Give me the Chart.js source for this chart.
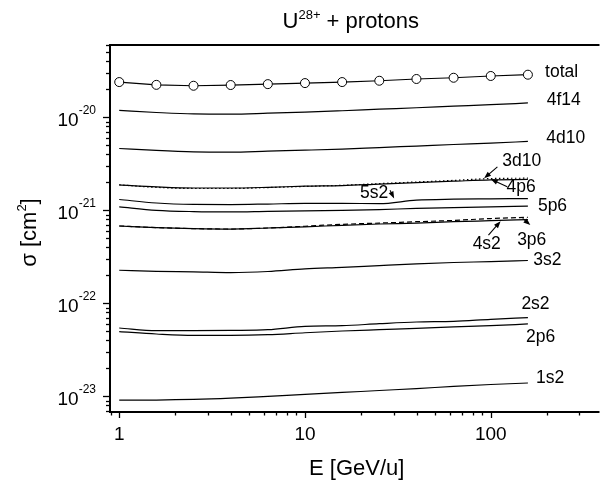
<!DOCTYPE html>
<html>
<head>
<meta charset="utf-8">
<script src="https://cdn.jsdelivr.net/npm/chart.js@4.4.1/dist/chart.umd.min.js"></script>
<style>
  html, body { margin: 0; padding: 0; background: #fff; }
  canvas { display: block; }
</style>
</head>
<body>
<canvas id="crossSections" width="605" height="480"></canvas>
<script>
const energy = [1, 1.585, 2.512, 3.981, 6.310, 10, 15.85, 25.12, 39.81, 63.10, 100, 158.5];

// Cross sections [cm^2] per subshell
const total   = [2.40e-20, 2.24e-20, 2.19e-20, 2.23e-20, 2.28e-20, 2.34e-20, 2.40e-20, 2.48e-20, 2.59e-20, 2.67e-20, 2.79e-20, 2.88e-20];
const sub4f14 = [1.19e-20, 1.13e-20, 1.09e-20, 1.085e-20, 1.11e-20, 1.14e-20, 1.18e-20, 1.225e-20, 1.27e-20, 1.32e-20, 1.37e-20, 1.43e-20];
const sub4d10 = [4.63e-21, 4.41e-21, 4.26e-21, 4.23e-21, 4.34e-21, 4.44e-21, 4.56e-21, 4.74e-21, 4.92e-21, 5.11e-21, 5.30e-21, 5.51e-21];
const sub3d10 = [1.88e-21, 1.77e-21, 1.72e-21, 1.72e-21, 1.76e-21, 1.81e-21, 1.86e-21, 1.94e-21, 2.02e-21, 2.10e-21, 2.20e-21, 2.22e-21];
const sub4p6  = [1.88e-21, 1.79e-21, 1.74e-21, 1.74e-21, 1.77e-21, 1.82e-21, 1.85e-21, 1.92e-21, 1.99e-21, 2.06e-21, 2.13e-21, 2.15e-21];
const sub5s2  = [1.31e-21, 1.20e-21, 1.16e-21, 1.155e-21, 1.17e-21, 1.19e-21, 1.19e-21, 1.18e-21, 1.29e-21, 1.32e-21, 1.33e-21, 1.34e-21];
const sub5p6  = [1.09e-21, 1.00e-21, 0.97e-21, 0.962e-21, 0.975e-21, 0.986e-21, 1.00e-21, 1.02e-21, 1.05e-21, 1.07e-21, 1.09e-21, 1.11e-21];
const sub4s2  = [6.79e-22, 6.53e-22, 6.37e-22, 6.30e-22, 6.46e-22, 6.65e-22, 6.91e-22, 7.14e-22, 7.30e-22, 7.55e-22, 7.75e-22, 7.96e-22];
const sub3p6  = [6.79e-22, 6.53e-22, 6.37e-22, 6.30e-22, 6.46e-22, 6.75e-22, 7.08e-22, 7.30e-22, 7.55e-22, 7.80e-22, 8.17e-22, 8.43e-22];
const sub3s2  = [2.27e-22, 2.21e-22, 2.18e-22, 2.14e-22, 2.20e-22, 2.35e-22, 2.44e-22, 2.55e-22, 2.66e-22, 2.75e-22, 2.81e-22, 2.89e-22];
const sub2s2  = [5.43e-23, 5.08e-23, 5.08e-23, 5.12e-23, 5.21e-23, 5.65e-23, 5.75e-23, 6.04e-23, 6.30e-23, 6.40e-23, 6.73e-23, 7.02e-23];
const sub2p6  = [4.96e-23, 4.68e-23, 4.52e-23, 4.52e-23, 4.60e-23, 4.83e-23, 5.04e-23, 5.21e-23, 5.38e-23, 5.57e-23, 5.75e-23, 6.00e-23];
const sub1s2  = [9.10e-24, 9.12e-24, 9.25e-24, 9.55e-24, 1.00e-23, 1.05e-23, 1.10e-23, 1.155e-23, 1.21e-23, 1.28e-23, 1.34e-23, 1.39e-23];

// Tick labels
const xTickValues = [1, 10, 100];
const xTickLabels = ['1', '10', '100'];
const yTickValues = [1e-23, 1e-22, 1e-21, 1e-20];
const yTickExponents = ['-23', '-22', '-21', '-20'];

// Curve labels, placed in data coordinates (energy, sigma)
const curveLabels = [
    { text: 'total', x: 196, y: 3.07e-20 },
    { text: '4f14', x: 200, y: 1.535e-20 },
    { text: '4d10', x: 199, y: 5.94e-21 },
    { text: '3d10', x: 115.4, y: 3.39e-21 },
    { text: '4p6', x: 121.7, y: 1.79e-21 },
    { text: '5s2', x: 19.8, y: 1.52e-21 },
    { text: '5p6', x: 179.4, y: 1.11e-21 },
    { text: '4s2', x: 79.9, y: 4.30e-22 },
    { text: '3p6', x: 138.7, y: 4.79e-22 },
    { text: '3s2', x: 169.4, y: 2.92e-22 },
    { text: '2s2', x: 146.2, y: 9.81e-23 },
    { text: '2p6', x: 154.9, y: 4.36e-23 },
    { text: '1s2', x: 175.1, y: 1.58e-23 }
];

// Pointer arrows, from label towards curve (data coordinates)
const arrows = [
    { from: [108.6, 2.94e-21], to: [92.1, 2.21e-21] },
    { from: [122.7, 1.79e-21], to: [100, 2.17e-21] },
    { from: [28.7, 1.65e-21], to: [30.2, 1.345e-21] },
    { from: [97.2, 5.42e-22], to: [113.0, 7.66e-22] },
    { from: [148.6, 8.19e-22], to: [163.3, 6.94e-22] }
];

const FONT = '"Liberation Sans", Arial, Helvetica, sans-serif';

function curve(values, dash) {
    return {
        data: values.map((v, i) => ({ x: energy[i], y: v })),
        borderColor: '#000',
        borderWidth: 1.2,
        borderDash: dash || [],
        pointRadius: 0,
        cubicInterpolationMode: 'monotone',
        fill: false
    };
}

const totalSet = {
    data: total.map((v, i) => ({ x: energy[i], y: v })),
    borderColor: '#000',
    borderWidth: 1.2,
    tension: 0,
    pointRadius: 4.5,
    pointBackgroundColor: '#fff',
    pointBorderColor: '#000',
    pointBorderWidth: 1,
    fill: false
};

function drawArrow(ctx, x1, y1, x2, y2) {
    const ang = Math.atan2(y2 - y1, x2 - x1);
    const len = 7, half = 2.6;
    ctx.beginPath();
    ctx.moveTo(x1, y1);
    ctx.lineTo(x2 - Math.cos(ang) * len * 0.8, y2 - Math.sin(ang) * len * 0.8);
    ctx.stroke();
    ctx.beginPath();
    ctx.moveTo(x2, y2);
    ctx.lineTo(x2 - Math.cos(ang) * len - Math.sin(ang) * half, y2 - Math.sin(ang) * len + Math.cos(ang) * half);
    ctx.lineTo(x2 - Math.cos(ang) * len + Math.sin(ang) * half, y2 - Math.sin(ang) * len - Math.cos(ang) * half);
    ctx.closePath();
    ctx.fill();
}

const decorations = {
    id: 'decorations',
    afterDraw(chart) {
        const ctx = chart.ctx;
        const area = chart.chartArea;
        const xs = chart.scales.x, ys = chart.scales.y;
        ctx.save();
        ctx.strokeStyle = '#000';
        ctx.fillStyle = '#000';

        // frame: top, left, bottom
        ctx.lineWidth = 2;
        ctx.beginPath();
        ctx.moveTo(area.right, area.top);
        ctx.lineTo(area.left, area.top);
        ctx.lineTo(area.left, area.bottom);
        ctx.lineTo(area.right, area.bottom);
        ctx.stroke();

        // log ticks, major at decades
        ctx.lineWidth = 1.3;
        for (let e = -24; e <= -19; e++) {
            for (let m = 1; m <= 9; m++) {
                const v = m * Math.pow(10, e);
                if (v < ys.min || v > ys.max) continue;
                const py = Math.round(ys.getPixelForValue(v)) + 0.5;
                const len = m === 1 ? 7 : 4;
                ctx.beginPath();
                ctx.moveTo(area.left - len, py);
                ctx.lineTo(area.left, py);
                ctx.stroke();
            }
        }
        for (let e = -1; e <= 2; e++) {
            for (let m = 1; m <= 9; m++) {
                const v = m * Math.pow(10, e);
                if (v < xs.min || v > xs.max) continue;
                const px = Math.round(xs.getPixelForValue(v)) + 0.5;
                const len = m === 1 ? 6 : 3.5;
                ctx.beginPath();
                ctx.moveTo(px, area.bottom);
                ctx.lineTo(px, area.bottom + len);
                ctx.stroke();
            }
        }

        // y tick labels 10^n
        const rightEdge = area.left - 14;
        yTickValues.forEach((v, i) => {
            const py = ys.getPixelForValue(v);
            ctx.font = '12px ' + FONT;
            const supW = ctx.measureText(yTickExponents[i]).width;
            ctx.textAlign = 'left';
            ctx.textBaseline = 'alphabetic';
            ctx.fillText(yTickExponents[i], rightEdge - supW, py - 3);
            ctx.font = '19px ' + FONT;
            ctx.textAlign = 'right';
            ctx.fillText('10', rightEdge - supW, py + 8.5);
        });

        // x tick labels
        ctx.font = '19px ' + FONT;
        ctx.textAlign = 'center';
        ctx.textBaseline = 'alphabetic';
        xTickValues.forEach((v, i) => {
            ctx.fillText(xTickLabels[i], xs.getPixelForValue(v), area.bottom + 28);
        });

        // title: U^28+ + protons
        const parts = [
            { t: 'U', f: '22px ', dy: 0 },
            { t: '28+', f: '13px ', dy: -9 },
            { t: ' + protons', f: '22px ', dy: 0 }
        ];
        let tw = 0;
        parts.forEach(p => { ctx.font = p.f + FONT; p.w = ctx.measureText(p.t).width; tw += p.w; });
        let tx = (area.left + area.right) / 2 - 4 - tw / 2;
        ctx.textAlign = 'left';
        parts.forEach(p => { ctx.font = p.f + FONT; ctx.fillText(p.t, tx, 28 + p.dy); tx += p.w; });

        // x axis title
        ctx.font = '22px ' + FONT;
        ctx.textAlign = 'center';
        ctx.fillText('E [GeV/u]', (area.left + area.right) / 2 + 2, 475);

        // y axis title: sigma [cm^2], rotated
        ctx.save();
        ctx.translate(36, (area.top + area.bottom) / 2 + 4);
        ctx.rotate(-Math.PI / 2);
        const yParts = [
            { t: 'σ [cm', f: '22px ', dy: 0 },
            { t: '2', f: '13px ', dy: -10 },
            { t: ']', f: '22px ', dy: 0 }
        ];
        let yw = 0;
        yParts.forEach(p => { ctx.font = p.f + FONT; p.w = ctx.measureText(p.t).width; yw += p.w; });
        let yx = -yw / 2;
        ctx.textAlign = 'left';
        yParts.forEach(p => { ctx.font = p.f + FONT; ctx.fillText(p.t, yx, p.dy); yx += p.w; });
        ctx.restore();

        // curve labels
        ctx.font = '17.5px ' + FONT;
        ctx.textAlign = 'left';
        ctx.textBaseline = 'middle';
        curveLabels.forEach(l => {
            ctx.fillText(l.text, xs.getPixelForValue(l.x), ys.getPixelForValue(l.y));
        });

        // arrows
        ctx.lineWidth = 1.1;
        arrows.forEach(a => {
            drawArrow(ctx,
                xs.getPixelForValue(a.from[0]), ys.getPixelForValue(a.from[1]),
                xs.getPixelForValue(a.to[0]), ys.getPixelForValue(a.to[1]));
        });

        ctx.restore();
    }
};

const ctxSigma = document.getElementById('crossSections').getContext('2d');
const sigmaChart = new Chart(ctxSigma, {
    type: 'line',
    data: {
        datasets: [
            totalSet,
            curve(sub4f14),
            curve(sub4d10),
            curve(sub3d10, [1.5, 2.5]),
            curve(sub4p6),
            curve(sub5s2),
            curve(sub5p6),
            curve(sub3p6, [5, 3]),
            curve(sub4s2),
            curve(sub3s2),
            curve(sub2s2),
            curve(sub2p6),
            curve(sub1s2)
        ]
    },
    options: {
        responsive: false,
        animation: false,
        layout: { padding: { top: 45, left: 0, right: 0, bottom: 0 } },
        plugins: {
            legend: { display: false },
            title: { display: false },
            tooltip: { enabled: false }
        },
        scales: {
            x: {
                type: 'logarithmic',
                min: 0.892,
                max: 385,
                grid: { display: false },
                border: { display: false },
                ticks: { display: false, autoSkip: false },
                afterFit: s => { s.height = 68; }
            },
            y: {
                type: 'logarithmic',
                min: 6.78e-24,
                max: 6.01e-20,
                grid: { display: false },
                border: { display: false },
                ticks: { display: false, autoSkip: false },
                afterFit: s => { s.width = 110; }
            }
        }
    },
    plugins: [decorations]
});
</script>
</body>
</html>
